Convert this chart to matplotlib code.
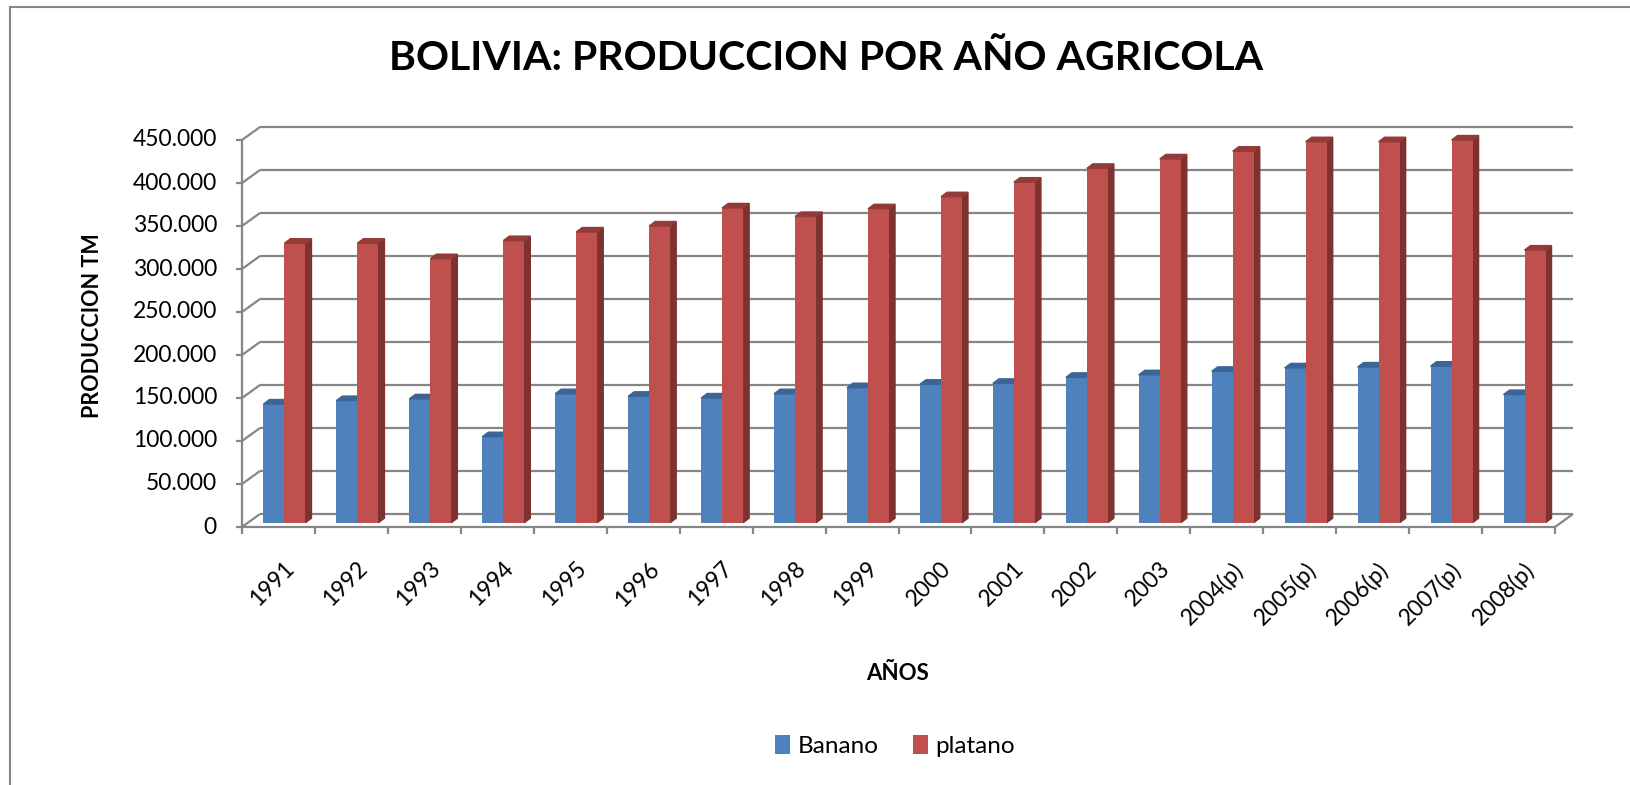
import numpy as np
import matplotlib
matplotlib.use("Agg")
import matplotlib.pyplot as plt
from matplotlib.patches import Polygon
from matplotlib.lines import Line2D

plt.rcParams['font.family'] = ['Lato', 'DejaVu Sans']

# data
years = ['1991', '1992', '1993', '1994', '1995', '1996', '1997', '1998', '1999',
         '2000', '2001', '2002', '2003', '2004(p)', '2005(p)', '2006(p)', '2007(p)', '2008(p)']
banano = [138000, 142000, 144000, 100000, 150000, 147000, 145000, 150000, 157000,
          161000, 162000, 169000, 172000, 176000, 180000, 181000, 182000, 149000]
platano = [325000, 325000, 307000, 328000, 338000, 345000, 366000, 356000, 365000,
           379000, 396000, 412000, 423000, 432000, 443000, 443000, 445000, 317000]
series_names = ['Banano', 'platano']
y_ticks = list(range(0, 450001, 50000))

W, H = 1630, 785
fig = plt.figure(figsize=(W / 100, H / 100), dpi=100)

# front plane of the plot area, in pixels
x0p, x1p, y0p, y1p = 242, 1555, 527, 140
ax = fig.add_axes([x0p / W, 1 - y0p / H, (x1p - x0p) / W, (y0p - y1p) / H])
n = len(years)
ymax = y_ticks[-1]
ax.set_xlim(0, n)
ax.set_ylim(0, ymax)
ax.axis('off')

px_x = n / (x1p - x0p)        # data units per pixel
px_y = ymax / (y0p - y1p)

grid = '#868686'
lw = 1.6
wall_dx, wall_dy = 18 * px_x, 13 * px_y

def seg(xs, ys):
    ax.plot(xs, ys, color=grid, lw=lw, clip_on=False, zorder=1, solid_capstyle='butt')

for v in y_ticks:
    seg([wall_dx, n + wall_dx], [v + wall_dy, v + wall_dy])   # back wall
    seg([0, wall_dx], [v, v + wall_dy])                       # side wall
    seg([-6 * px_x, 0], [v, v])                               # tick
    ax.text(-25 * px_x, v, f'{v:,}'.replace(',', '.'), ha='right', va='center',
            fontsize=16.5, color='black')
seg([0, 0], [0, ymax])
seg([0, n], [0, 0])
seg([n, n + wall_dx], [0, wall_dy])
for i in range(n + 1):
    seg([i, i], [0, -7 * px_y])

# bars (clustered, with a little 3d depth)
w = 21 * px_x
shift_x, shift_y = 6 * px_x, 4.3 * px_y
dep_x, dep_y = 6 * px_x, 4.5 * px_y
idx = np.arange(n)
face = ['#4F81BD', '#C0504D']
top_c = ['#3A6596', '#923B39']
side_c = ['#345A88', '#7E3230']
conts = []
for k, vals in enumerate([banano, platano]):
    xc = idx + 0.5 + (k - 0.5) * w + shift_x
    b = ax.bar(xc, vals, width=w, bottom=shift_y, color=face[k], zorder=3 + 2 * k,
               clip_on=False, label=series_names[k])
    conts.append(b)
    for x, v in zip(xc, vals):
        xl, xr = x - w / 2, x + w / 2
        t = v + shift_y
        ax.add_patch(Polygon([(xl, t), (xr, t), (xr + dep_x, t + dep_y), (xl + dep_x, t + dep_y)],
                             closed=True, color=top_c[k], zorder=3 + 2 * k, clip_on=False))
        ax.add_patch(Polygon([(xr, shift_y), (xr + dep_x, shift_y + dep_y), (xr + dep_x, t + dep_y), (xr, t)],
                             closed=True, color=side_c[k], zorder=2 + 2 * k, clip_on=False))

for i, lab in enumerate(years):
    ax.text(i + 0.5 + 5 * px_x, -31 * px_y, lab, rotation=45, ha='right', va='top',
            rotation_mode='anchor', fontsize=16.5)

ax.text(-(x0p - 92) * px_x, (y0p - 326) * px_y, 'PRODUCCION TM', rotation=90,
        ha='center', va='center', fontsize=15.5, fontweight='bold')
fig.text(898 / W, 1 - 673 / H, 'AÑOS', ha='center', va='center', fontsize=16, fontweight='bold')
fig.text(826 / W, 1 - 59 / H, 'BOLIVIA: PRODUCCION POR AÑO AGRICOLA', ha='center', va='center',
         fontsize=29.5, fontweight='bold')

ax.legend(handles=conts, labels=series_names, loc='center', bbox_to_anchor=(895 / W, 1 - 746 / H),
          bbox_transform=fig.transFigure, ncol=2, frameon=False, fontsize=17.5,
          handlelength=0.62, handleheight=0.8, handletextpad=0.3, columnspacing=1.4)

# chart border (left and top edges visible)
fig.add_artist(Line2D([10 / W, 10 / W], [0, 1 - 7 / H], transform=fig.transFigure, color=grid, lw=1.5))
fig.add_artist(Line2D([10 / W, 1], [1 - 7 / H, 1 - 7 / H], transform=fig.transFigure, color=grid, lw=1.5))

fig.savefig('out.png', dpi=100, facecolor='white')
